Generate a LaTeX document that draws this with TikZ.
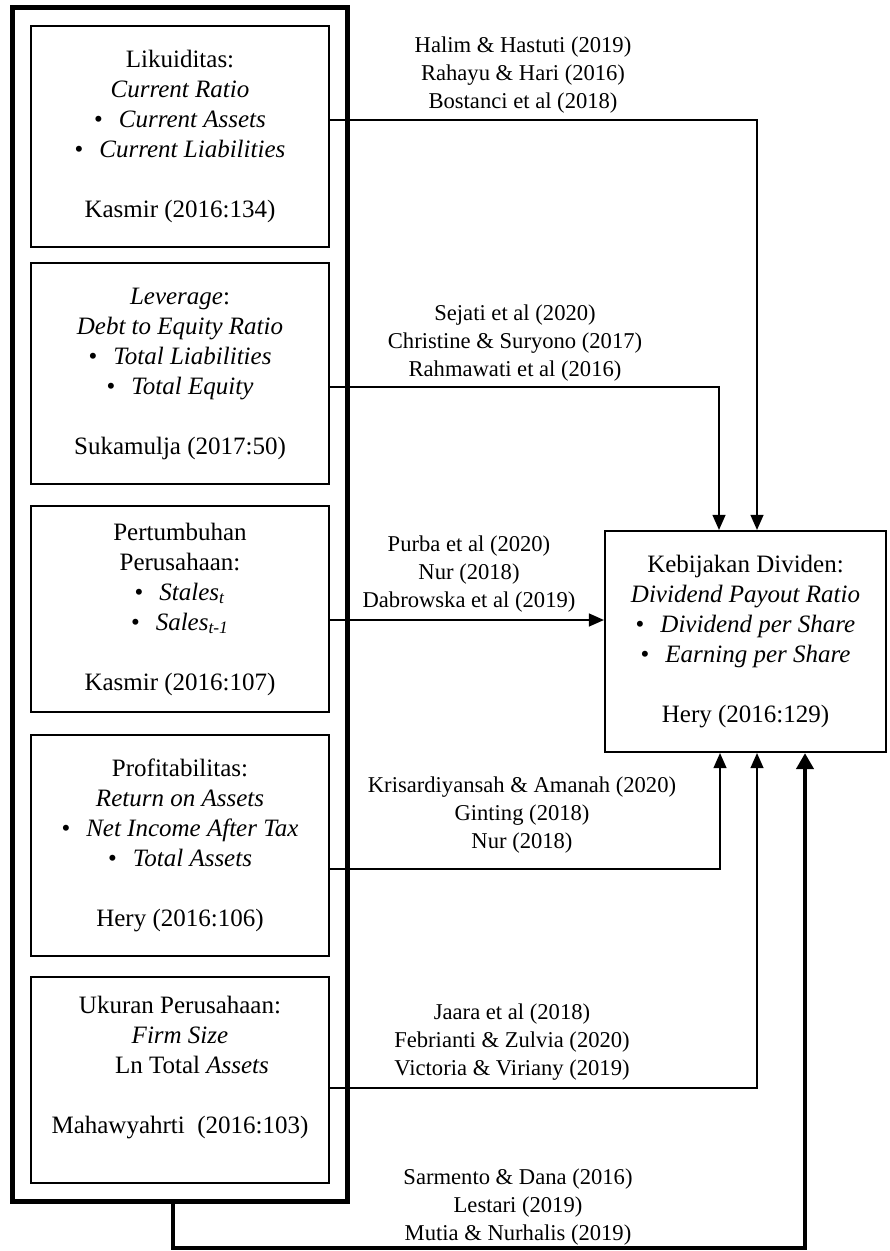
\documentclass[tikz,border=0pt]{standalone}
\usepackage{fontspec}
\setmainfont{Liberation Serif}
\usetikzlibrary{arrows.meta, fit}
\newcommand{\bul}{\textbullet\hspace{8pt}}

\begin{document}
\begin{tikzpicture}[
  x=0.5pt, y=-0.5pt,
  varnode/.style={rectangle, draw, line width=1pt, inner sep=0pt, minimum width=149pt, align=center, font=\fontsize{12.5}{15}\selectfont},
  depnode/.style={rectangle, draw, line width=1.1pt, inner sep=0pt, minimum width=140.5pt, minimum height=110.5pt, align=center, font=\fontsize{12.5}{15}\selectfont},
  framenode/.style={rectangle, draw, line width=2.5pt, inner sep=8.75pt},
  refnode/.style={align=center, inner sep=0pt, font=\fontsize{11.3}{13.8}\selectfont},
  link/.style={-{Triangle[length=7.5pt, width=6.5pt]}, line width=0.6pt},
  mainlink/.style={-{Triangle[length=8pt, width=8.5pt]}, line width=2.4pt},
]
\useasboundingbox[fill=white] (0,0) rectangle (889,1251);

% independent variables
\node[varnode, minimum height=110.5pt] (v1) at (180,136.5) {Likuiditas:\\\textit{Current Ratio}\\\bul\textit{Current Assets}\\\bul\textit{Current Liabilities}\\[15pt]Kasmir (2016:134)};
\node[varnode, minimum height=110.5pt] (v2) at (180,373.5) {\textit{Leverage}:\\\textit{Debt to Equity Ratio}\\\bul\textit{Total Liabilities}\\\bul\textit{Total Equity}\\[15pt]Sukamulja (2017:50)};
\node[varnode, minimum height=103pt] (v3) at (180,609) {Pertumbuhan\\Perusahaan:\\\bul\textit{Stales}\textsubscript{\textit{t}}\\\bul\textit{Sales}\textsubscript{\textit{t-1}}\\[15pt]Kasmir (2016:107)};
\node[varnode, minimum height=110.5pt] (v4) at (180,845.5) {Profitabilitas:\\\textit{Return on Assets}\\\bul\textit{Net Income After Tax}\\\bul\textit{Total Assets}\\[15pt]Hery (2016:106)};
\node[varnode, minimum height=103pt] (v5) at (180,1080) {Ukuran Perusahaan:\\\textit{Firm Size}\\\hspace*{12pt}Ln Total \textit{Assets}\\[15pt]Mahawyahrti\ \ (2016:103)\\\mbox{}};
\node[framenode, fit=(v1)(v2)(v3)(v4)(v5)] (fr) {};

% dependent variable
\node[depnode] (dv) at (745.5,641.5) {Kebijakan Dividen:\\\textit{Dividend Payout Ratio}\\\bul\textit{Dividend per Share}\\\bul\textit{Earning per Share}\\[15pt]Hery (2016:129)};

% references
\node[refnode] (c1) at (523,75) {Halim \& Hastuti (2019)\\Rahayu \& Hari (2016)\\Bostanci et al (2018)};
\node[refnode] (c2) at (515,343) {Sejati et al (2020)\\Christine \& Suryono (2017)\\Rahmawati et al (2016)};
\node[refnode] (c3) at (469,574) {Purba et al (2020)\\Nur (2018)\\Dabrowska et al (2019)};
\node[refnode] (c4) at (522,815) {Krisardiyansah \& Amanah (2020)\\Ginting (2018)\\Nur (2018)};
\node[refnode] (c5) at (512,1042) {Jaara et al (2018)\\Febrianti \& Zulvia (2020)\\Victoria \& Viriany (2019)};
\node[refnode] (c6) at (518,1207) {Sarmento \& Dana (2016)\\Lestari (2019)\\Mutia \& Nurhalis (2019)};

% links
\draw[link] (v1.east |- 0,120) -| (757,0 |- dv.north);
\draw[link] (v2.east |- 0,387) -| (719,0 |- dv.north);
\draw[link] (v3.east |- 0,620) -- (dv.west |- 0,620);
\draw[link] (v4.east |- 0,869) -| (720,0 |- dv.south);
\draw[link] (v5.east |- 0,1088) -| (757,0 |- dv.south);
\draw[mainlink] (fr.south -| 173,0) |- (805,1248) -- (805,0 |- dv.south);
\end{tikzpicture}
\end{document}
